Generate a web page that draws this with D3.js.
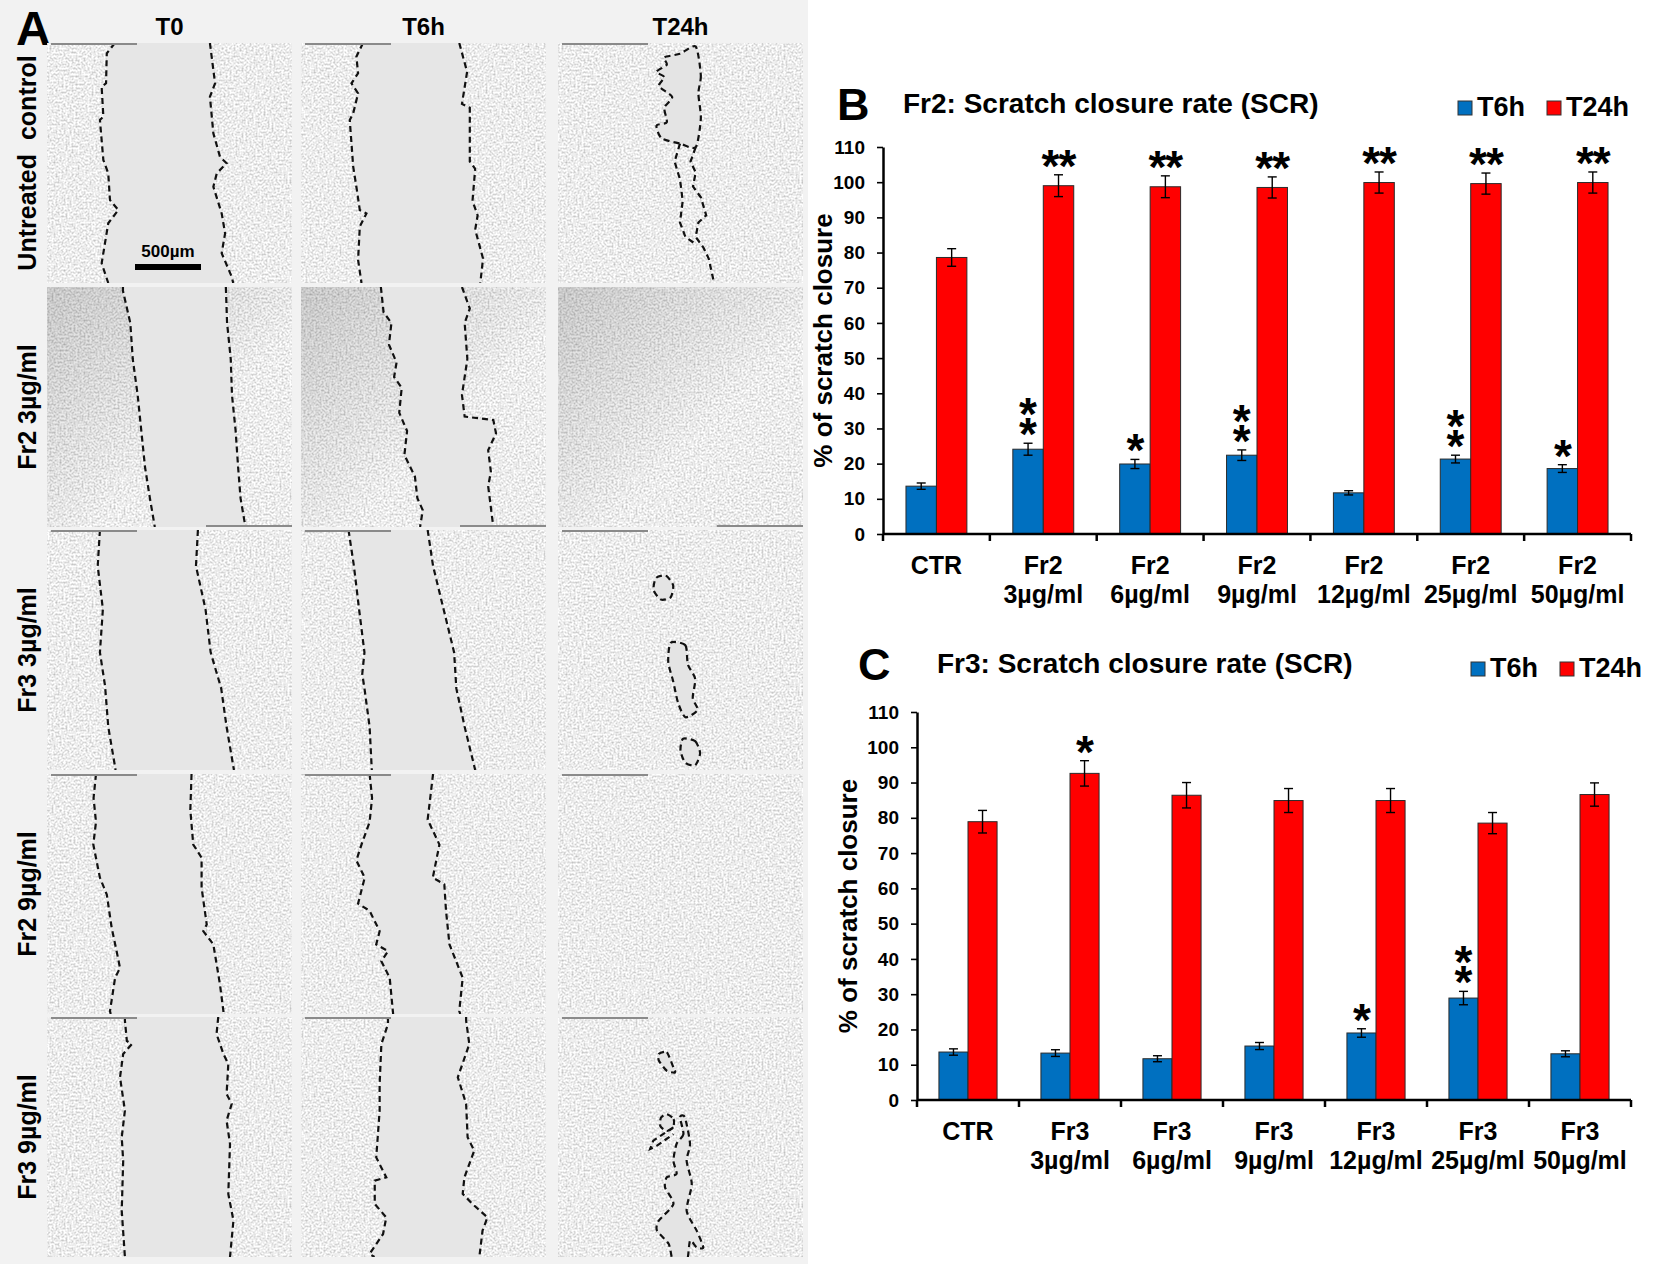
<!DOCTYPE html>
<html>
<head>
<meta charset="utf-8">
<script src="https://cdn.jsdelivr.net/npm/d3@7"></script>
<style>
  body { margin: 0; background: #fff; }
  svg { display: block; font-family: "Liberation Sans", Arial, sans-serif; }
</style>
</head>
<body>
<svg id="fig"></svg>
<script>
// ---- chart data ----
const categories = ["CTR", "3µg/ml", "6µg/ml", "9µg/ml", "12µg/ml", "25µg/ml", "50µg/ml"];
const series = ["T6h", "T24h"];
const yTicks = [0, 10, 20, 30, 40, 50, 60, 70, 80, 90, 100, 110];

const fr2T6 = [13.6, 24.1, 19.9, 22.4, 11.7, 21.3, 18.6];
const fr2T6Err = [0.9, 1.7, 1.3, 1.5, 0.6, 1.1, 1.1];
const fr2T24 = [78.6, 99.0, 98.7, 98.5, 99.9, 99.6, 99.9];
const fr2T24Err = [2.5, 3.1, 3.1, 3.0, 3.0, 3.0, 3.0];
const fr2Stars6 = ["", "**", "*", "**", "", "**", "*"];
const fr2Stars24 = ["", "**", "**", "**", "**", "**", "**"];

const fr3T6 = [13.6, 13.3, 11.7, 15.3, 19.0, 28.9, 13.1];
const fr3T6Err = [0.9, 0.95, 0.85, 1.0, 1.2, 1.9, 0.85];
const fr3T24 = [78.9, 92.6, 86.4, 84.9, 84.9, 78.5, 86.6];
const fr3T24Err = [3.2, 3.6, 3.6, 3.4, 3.4, 3.0, 3.3];
const fr3Stars6 = ["", "", "", "", "*", "**", ""];
const fr3Stars24 = ["", "*", "", "", "", "", ""];

// ---- panel A: image grid labels and traced scratch edges ----
const timeHeaders = ["T0", "T6h", "T24h"];
const rowLabels = ["Untreated\u00a0 control", "Fr2 3µg/ml", "Fr3 3µg/ml", "Fr2 9µg/ml", "Fr3 9µg/ml"];

// edges are [x, y] as fractions of the tile
const scratchEdges = [
  { r: 0, c: 0,
    left: [[.277,0],[.244,.043],[.241,.168],[.223,.182],[.23,.307],[.216,.321],[.23,.488],[.25,.543],[.257,.654],[.291,.696],[.25,.751],[.223,.918],[.25,1]],
    right: [[.665,0],[.686,.168],[.665,.224],[.679,.376],[.706,.474],[.733,.501],[.693,.543],[.679,.599],[.713,.71],[.727,.793],[.713,.876],[.754,.974],[.76,1]] },
  { r: 0, c: 1,
    left: [[.253,0],[.226,.057],[.233,.126],[.206,.168],[.233,.21],[.213,.293],[.199,.321],[.213,.515],[.226,.599],[.24,.696],[.267,.71],[.24,.765],[.233,.904],[.247,1]],
    right: [[.646,0],[.678,.12],[.657,.254],[.689,.27],[.689,.494],[.711,.524],[.70,.658],[.721,.718],[.711,.778],[.743,.898],[.732,1]] },
  { r: 0, c: 2, left: null, right: null,
    loops: [[[.562,.015],[.583,.135],[.573,.21],[.583,.314],[.562,.434],[.498,.419],[.423,.397],[.402,.344],[.444,.33],[.434,.27],[.466,.225],[.412,.18],[.434,.142],[.402,.12],[.444,.09],[.434,.06],[.498,.045]]],
    lines: [[[.562,.434],[.541,.494],[.562,.539],[.551,.598],[.583,.643],[.605,.718],[.573,.748],[.562,.808],[.594,.853],[.615,.898],[.637,1]],
            [[.498,.419],[.476,.494],[.498,.569],[.509,.658],[.498,.748],[.52,.808],[.562,.838]]] },
  { r: 1, c: 0,
    left: [[.31,0],[.31,.016],[.34,.15],[.35,.30],[.37,.45],[.385,.60],[.40,.75],[.42,.88],[.44,1]],
    right: [[.73,0],[.735,.15],[.75,.30],[.755,.45],[.77,.60],[.78,.75],[.79,.88],[.81,1]] },
  { r: 1, c: 1,
    left: [[.326,0],[.337,.105],[.369,.15],[.359,.24],[.39,.315],[.38,.375],[.411,.42],[.401,.524],[.433,.60],[.422,.70],[.465,.79],[.475,.88],[.497,.93],[.486,1]],
    right: [[.657,0],[.689,.09],[.668,.15],[.679,.30],[.657,.45],[.668,.54],[.785,.554],[.796,.61],[.764,.68],[.775,.77],[.764,.83],[.785,1]] },
  { r: 1, c: 2, left: null, right: null },
  { r: 2, c: 0,
    left: [[.216,0],[.207,.15],[.228,.33],[.216,.51],[.237,.65],[.25,.82],[.28,1]],
    right: [[.616,0],[.608,.15],[.647,.33],[.668,.51],[.711,.66],[.733,.82],[.763,1]] },
  { r: 2, c: 1,
    left: [[.194,0],[.216,.15],[.237,.33],[.259,.51],[.25,.6],[.259,.66],[.28,.82],[.289,1]],
    right: [[.517,0],[.539,.15],[.582,.33],[.625,.51],[.634,.66],[.668,.82],[.711,1]] },
  { r: 2, c: 2, left: null, right: null,
    loops: [[[.40,.20],[.44,.19],[.47,.23],[.46,.28],[.42,.29],[.39,.25]],
            [[.46,.47],[.52,.48],[.53,.56],[.56,.62],[.55,.70],[.57,.75],[.52,.78],[.49,.72],[.47,.63],[.45,.55]],
            [[.51,.87],[.56,.88],[.58,.93],[.56,.98],[.52,.97],[.50,.92]]] },
  { r: 3, c: 0,
    left: [[.20,0],[.19,.1],[.20,.2],[.189,.294],[.216,.432],[.244,.502],[.264,.641],[.284,.738],[.298,.808],[.278,.849],[.257,.988],[.26,1]],
    right: [[.59,0],[.585,.15],[.597,.294],[.631,.349],[.631,.474],[.652,.627],[.638,.655],[.679,.71],[.706,.877],[.72,.988],[.72,1]] },
  { r: 3, c: 1,
    left: [[.28,0],[.29,.1],[.28,.2],[.247,.294],[.226,.36],[.26,.432],[.233,.54],[.28,.57],[.321,.655],[.307,.71],[.355,.738],[.328,.78],[.362,.849],[.376,1]],
    right: [[.539,0],[.517,.19],[.565,.294],[.538,.432],[.585,.46],[.592,.571],[.606,.71],[.66,.849],[.646,.988],[.65,1]] },
  { r: 3, c: 2, left: null, right: null },
  { r: 4, c: 0,
    left: [[.318,0],[.318,.015],[.326,.1],[.346,.113],[.311,.154],[.298,.251],[.318,.39],[.305,.501],[.311,.599],[.305,.807],[.318,1]],
    right: [[.699,0],[.692,.071],[.72,.154],[.74,.196],[.733,.321],[.754,.362],[.733,.432],[.747,.529],[.74,.737],[.761,.848],[.747,1]] },
  { r: 4, c: 1,
    left: [[.355,0],[.355,.029],[.328,.113],[.321,.279],[.321,.39],[.307,.585],[.348,.668],[.301,.682],[.301,.779],[.348,.835],[.335,.904],[.28,.987],[.30,1]],
    right: [[.674,0],[.674,.015],[.687,.113],[.64,.251],[.674,.362],[.68,.501],[.707,.557],[.667,.668],[.66,.737],[.70,.779],[.761,.835],[.741,.89],[.728,1]] },
  { r: 4, c: 2, left: null, right: null,
    loops: [[[.411,.154],[.444,.147],[.471,.21],[.478,.231],[.444,.224],[.412,.182]],
            [[.444,.405],[.472,.425],[.47,.46],[.444,.475],[.418,.455],[.42,.42]],
            [[.498,.418],[.512,.488],[.484,.529],[.471,.599],[.484,.654],[.444,.668],[.437,.71],[.471,.779],[.411,.849],[.404,.89],[.452,.946],[.471,1.02],
             [.525,1.02],[.539,.932],[.566,.96],[.593,.96],[.566,.89],[.525,.807],[.546,.696],[.525,.599],[.539,.529],[.518,.418]]],
    lines: [[[.471,.46],[.389,.515],[.376,.55],[.404,.536],[.471,.488]]] }
];

const W = 1654, H = 1264;
const svg = d3.select("#fig").attr("width", W).attr("height", H);

const defs = svg.append("defs");
const tex = defs.append("filter").attr("id", "cellTex")
    .attr("x", 0).attr("y", 0).attr("width", 1).attr("height", 1);
tex.append("feTurbulence").attr("type", "fractalNoise")
    .attr("baseFrequency", 0.5).attr("numOctaves", 3).attr("seed", 11);
tex.append("feColorMatrix").attr("type", "matrix")
    .attr("values", "0.95 0 0 0 0.37  0.95 0 0 0 0.37  0.95 0 0 0 0.37  0 0 0 0 1");

const shade = defs.append("linearGradient").attr("id", "shade")
    .attr("x1", 0).attr("y1", 0).attr("x2", 1).attr("y2", 1);
shade.append("stop").attr("offset", 0).attr("stop-color", "#000").attr("stop-opacity", 0.16);
shade.append("stop").attr("offset", 0.6).attr("stop-color", "#000").attr("stop-opacity", 0);

// ---- panel A ----
function drawImages() {
  const colX = [47, 301, 558], rowY = [43, 287, 530, 774, 1017];
  const tw = 245, th = 240;
  const gA = svg.append("g");
  gA.append("rect").attr("width", 808).attr("height", H).attr("fill", "#f2f2f2");

  gA.append("text").attr("x", 16).attr("y", 45)
      .attr("font-size", 48).attr("font-weight", "bold").text("A");

  gA.selectAll(".hdr").data(timeHeaders).join("text")
      .attr("x", (d, i) => colX[i] + tw / 2).attr("y", 35)
      .attr("text-anchor", "middle").attr("font-size", 24).attr("font-weight", "bold")
      .text(d => d);

  gA.selectAll(".rowlab").data(rowLabels).join("text")
      .attr("transform", (d, i) => `translate(36,${rowY[i] + th / 2}) rotate(-90)`)
      .attr("text-anchor", "middle").attr("font-size", 25).attr("font-weight", "bold")
      .text(d => d);

  scratchEdges.forEach((t, k) => {
    const x0 = colX[t.c], y0 = rowY[t.r];
    const sx = d3.scaleLinear().domain([0, 1]).range([x0, x0 + tw]);
    const sy = d3.scaleLinear().domain([0, 1]).range([y0, y0 + th]);
    const line = d3.line().x(d => sx(d[0])).y(d => sy(d[1]));
    const loop = d3.line().x(d => sx(d[0])).y(d => sy(d[1])).curve(d3.curveCardinalClosed.tension(0.3));

    defs.append("clipPath").attr("id", "clip" + k)
      .append("rect").attr("x", x0).attr("y", y0).attr("width", tw).attr("height", th);
    const g = gA.append("g").attr("clip-path", `url(#clip${k})`);

    g.append("rect").attr("x", x0).attr("y", y0).attr("width", tw).attr("height", th)
        .attr("filter", "url(#cellTex)");
    if (t.r === 1) {
      g.append("rect").attr("x", x0).attr("y", y0).attr("width", tw).attr("height", th)
          .attr("fill", "url(#shade)");
    }
    if (t.left) {
      const L = t.left, R = t.right;
      const poly = [[L[0][0], -0.05], ...L, [L[L.length - 1][0], 1.05],
                    [R[R.length - 1][0], 1.05], ...R.slice().reverse(), [R[0][0], -0.05]];
      g.append("path").attr("d", line(poly) + "Z").attr("fill", "#e6e6e6");
      [L, R].forEach(e => g.append("path").attr("d", line(e))
          .attr("fill", "none").attr("stroke", "#111").attr("stroke-width", 2.2)
          .attr("stroke-dasharray", "6,4"));
    }
    (t.loops || []).forEach(p => g.append("path").attr("d", loop(p))
        .attr("fill", "#e4e4e4").attr("stroke", "#111").attr("stroke-width", 2.2)
        .attr("stroke-dasharray", "6,4"));
    (t.lines || []).forEach(p => g.append("path").attr("d", line(p))
        .attr("fill", "none").attr("stroke", "#111").attr("stroke-width", 2.2)
        .attr("stroke-dasharray", "6,4"));

    // seam marks left over from image stitching
    const top = t.r !== 1;
    g.append("line")
        .attr("x1", top ? x0 + 4 : x0 + tw - 86).attr("x2", top ? x0 + 90 : x0 + tw)
        .attr("y1", top ? y0 + 1 : y0 + th - 1).attr("y2", top ? y0 + 1 : y0 + th - 1)
        .attr("stroke", "#8a8a8a").attr("stroke-width", 2);
  });

  // scale bar
  gA.append("rect").attr("x", 135).attr("y", 264).attr("width", 66).attr("height", 6).attr("fill", "#000");
  gA.append("text").attr("x", 168).attr("y", 257).attr("text-anchor", "middle")
      .attr("font-size", 17).attr("font-weight", "bold").text("500µm");
}

// ---- panels B and C ----
function drawChart(cfg) {
  const g = svg.append("g");
  const x = d3.scaleBand().domain(categories).range([cfg.left, cfg.right]);
  const bw = x.bandwidth();
  const xs = d3.scaleBand().domain(series).range([bw * 0.215, bw * 0.785]);
  const y = d3.scaleLinear().domain([0, 110]).range([cfg.bottom, cfg.top]);
  const colors = { "T6h": "#0070c0", "T24h": "#ff0000" };

  const rows = categories.flatMap((c, i) => [
    { cat: c, s: "T6h", v: cfg.t6[i], e: cfg.t6Err[i], star: cfg.stars6[i] },
    { cat: c, s: "T24h", v: cfg.t24[i], e: cfg.t24Err[i], star: cfg.stars24[i] }
  ]);

  g.append("text").attr("x", cfg.letterX).attr("y", cfg.letterY)
      .attr("font-size", 45).attr("font-weight", "bold").text(cfg.letter);
  g.append("text").attr("x", cfg.titleX).attr("y", cfg.titleY)
      .attr("font-size", 28).attr("font-weight", "bold").text(cfg.title);

  // legend
  const leg = g.selectAll(".leg").data(series).join("g")
      .attr("transform", (d, i) => `translate(${cfg.legendX + i * 89},${cfg.legendY})`);
  leg.append("rect").attr("x", 0).attr("y", -15).attr("width", 14).attr("height", 14)
      .attr("fill", d => colors[d]).attr("stroke", "#333").attr("stroke-width", 1);
  leg.append("text").attr("x", 19).attr("y", 0)
      .attr("font-size", 27).attr("font-weight", "bold").text(d => d);

  // y axis
  const ya = g.append("g").attr("transform", `translate(${cfg.left},0)`)
      .call(d3.axisLeft(y).tickValues(yTicks).tickSize(6).tickSizeOuter(0).tickPadding(12));
  ya.select(".domain").attr("stroke", "#000").attr("stroke-width", 2.5);
  ya.selectAll(".tick line").attr("stroke", "#000").attr("stroke-width", 1.6);
  ya.selectAll(".tick text").attr("fill", "#000").attr("font-size", 19)
      .attr("font-weight", "bold").attr("font-family", null);
  ya.attr("font-family", null);

  g.append("text")
      .attr("transform", `translate(${cfg.yLabelX},${(cfg.top + cfg.bottom) / 2}) rotate(-90)`)
      .attr("text-anchor", "middle").attr("font-size", 26).attr("font-weight", "bold")
      .text("% of scratch closure");

  // bars
  g.selectAll(".bar").data(rows).join("rect")
      .attr("x", d => x(d.cat) + xs(d.s)).attr("width", xs.bandwidth())
      .attr("y", d => y(d.v)).attr("height", d => y(0) - y(d.v))
      .attr("fill", d => colors[d.s]).attr("stroke", "#2b2b2b").attr("stroke-width", 1);

  // error bars
  const eb = g.selectAll(".err").data(rows).join("g")
      .attr("transform", d => `translate(${x(d.cat) + xs(d.s) + xs.bandwidth() / 2},0)`);
  eb.append("line").attr("y1", d => y(d.v - d.e)).attr("y2", d => y(d.v + d.e))
      .attr("stroke", "#000").attr("stroke-width", 1.4);
  eb.selectAll(".cap").data(d => [d.v - d.e, d.v + d.e]).join("line")
      .attr("x1", -4.5).attr("x2", 4.5).attr("y1", v => y(v)).attr("y2", v => y(v))
      .attr("stroke", "#000").attr("stroke-width", 1.4);

  // significance stars: stacked above T6h bars, side by side above T24h bars
  rows.filter(d => d.star).forEach(d => {
    const cx = x(d.cat) + xs(d.s) + xs.bandwidth() / 2;
    const cy = y(d.v + d.e) - 18;
    if (d.s === "T6h" && d.star.length > 1) {
      // one text run turned upward, each glyph turned back upright: a vertical stack
      g.append("text")
          .attr("transform", `translate(${cx - 9},${cy + 25}) rotate(-90)`)
          .attr("rotate", 90).attr("letter-spacing", 2.1)
          .attr("font-size", 46).attr("font-weight", "bold")
          .text(d.star);
    } else {
      g.append("text").attr("x", cx).attr("y", cy + 25).attr("text-anchor", "middle")
          .attr("font-size", 46).attr("font-weight", "bold").attr("letter-spacing", -1)
          .text(d.star);
    }
  });

  // x axis (Excel style: ticks between categories)
  g.append("line").attr("x1", cfg.left).attr("x2", cfg.right)
      .attr("y1", y(0)).attr("y2", y(0)).attr("stroke", "#000").attr("stroke-width", 2.5);
  g.selectAll(".xt").data([...categories.map(c => x(c)), cfg.right]).join("line")
      .attr("x1", d => d).attr("x2", d => d).attr("y1", y(0)).attr("y2", y(0) + 7)
      .attr("stroke", "#000").attr("stroke-width", 2.5);

  const lab = g.selectAll(".xl").data(categories).join("text")
      .attr("text-anchor", "middle").attr("font-size", 25).attr("font-weight", "bold");
  lab.append("tspan").attr("x", d => x(d) + bw / 2).attr("y", y(0) + 40)
      .text(d => d === "CTR" ? "CTR" : cfg.prefix);
  lab.filter(d => d !== "CTR").append("tspan").attr("x", d => x(d) + bw / 2).attr("y", y(0) + 69)
      .text(d => d);
}

drawImages();

drawChart({
  letter: "B", letterX: 837, letterY: 120,
  title: "Fr2: Scratch closure rate (SCR)", titleX: 903, titleY: 113,
  legendX: 1458, legendY: 116,
  prefix: "Fr2", left: 883, right: 1631, top: 147, bottom: 534, yLabelX: 832,
  t6: fr2T6, t6Err: fr2T6Err, t24: fr2T24, t24Err: fr2T24Err,
  stars6: fr2Stars6, stars24: fr2Stars24
});

drawChart({
  letter: "C", letterX: 858, letterY: 680,
  title: "Fr3: Scratch closure rate (SCR)", titleX: 937, titleY: 673,
  legendX: 1471, legendY: 677,
  prefix: "Fr3", left: 917, right: 1631, top: 712, bottom: 1100, yLabelX: 857,
  t6: fr3T6, t6Err: fr3T6Err, t24: fr3T24, t24Err: fr3T24Err,
  stars6: fr3Stars6, stars24: fr3Stars24
});
</script>
</body>
</html>
